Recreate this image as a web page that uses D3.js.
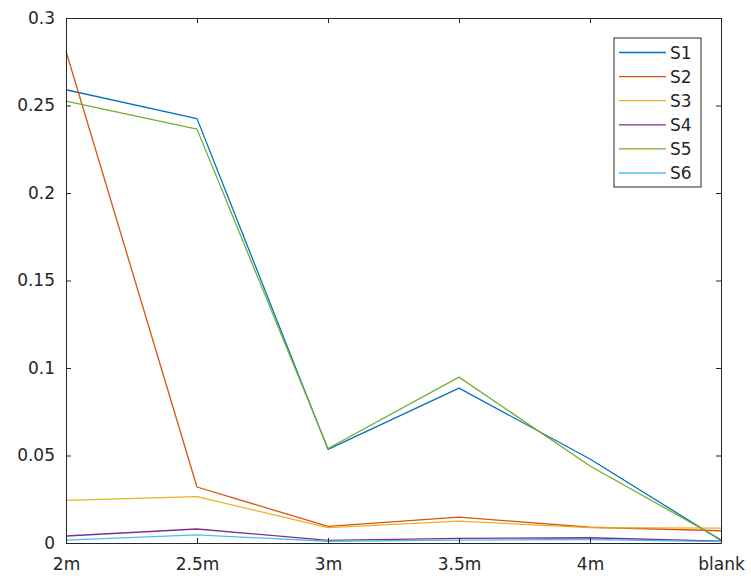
<!DOCTYPE html>
<html>
<head>
<meta charset="utf-8">
<script src="https://cdn.jsdelivr.net/npm/d3@7"></script>
<style>
  html, body { margin: 0; padding: 0; background: #fff; }
  svg { display: block; font-family: "DejaVu Sans", sans-serif; }
</style>
</head>
<body>
<svg id="chart" width="751" height="578"></svg>
<script>
const categories = ["2m", "2.5m", "3m", "3.5m", "4m", "blank"];
const seriesNames = ["S1", "S2", "S3", "S4", "S5", "S6"];
const s1 = [0.259, 0.2425, 0.0535, 0.0885, 0.0480, 0.0015];
const s2 = [0.281, 0.0320, 0.0095, 0.0148, 0.0090, 0.0070];
const s3 = [0.0243, 0.0265, 0.0088, 0.0125, 0.0088, 0.0085];
const s4 = [0.0040, 0.0080, 0.0015, 0.0027, 0.0030, 0.0010];
const s5 = [0.2525, 0.2365, 0.0540, 0.0948, 0.0440, 0.0020];
const s6 = [0.0017, 0.0046, 0.0010, 0.0017, 0.0020, 0.0008];
const seriesValues = [s1, s2, s3, s4, s5, s6];
const colors = ["#0072BD", "#D95319", "#EDB120", "#7E2F8E", "#77AC30", "#4DBEEE"];
const yTicks = [0, 0.05, 0.1, 0.15, 0.2, 0.25, 0.3];

const svg = d3.select("#chart");
const L = 66, R = 721, T = 18, B = 543;
const axisColor = "#262626";

const x = d3.scalePoint().domain(categories).range([L, R]);
const y = d3.scaleLinear().domain([0, 0.3]).range([B, T]);

// lines
const line = d3.line().x((d, i) => x(categories[i])).y(d => y(d));
seriesValues.forEach((vals, k) => {
  svg.append("path")
    .datum(vals)
    .attr("d", line)
    .attr("fill", "none")
    .attr("stroke", colors[k])
    .attr("stroke-width", 1.3)
    .attr("stroke-linejoin", "round");
});

// axes (MATLAB style: ticks inside, box)
const fmt = d => d === 0 ? "0" : d3.format("")(+d.toFixed(2));
const yAxisL = d3.axisLeft(y).tickValues(yTicks).tickSizeInner(-5).tickSizeOuter(0).tickPadding(11).tickFormat(fmt);
const yAxisR = d3.axisRight(y).tickValues(yTicks).tickSizeInner(-5).tickSizeOuter(0).tickFormat("");
const xAxisB = d3.axisBottom(x).tickSizeInner(-5).tickSizeOuter(0).tickPadding(15);
const xAxisT = d3.axisTop(x).tickSizeInner(-5).tickSizeOuter(0).tickFormat("");

function style(g) {
  g.select(".domain").attr("stroke", axisColor).attr("stroke-width", 1);
  g.selectAll(".tick line").attr("stroke", axisColor);
  g.selectAll(".tick text").attr("fill", axisColor).style("font-size", "17px").style("font-family", "DejaVu Sans, sans-serif");
}
svg.append("g").attr("transform", `translate(${L},0)`).call(yAxisL).call(style);
svg.append("g").attr("transform", `translate(${R},0)`).call(yAxisR).call(style);
svg.append("g").attr("transform", `translate(0,${B})`).call(xAxisB).call(style);
svg.append("g").attr("transform", `translate(0,${T})`).call(xAxisT).call(style);

// legend
const lg = svg.append("g");
const lx = 614, ly = 38, lw = 87, lh = 149;
lg.append("rect").attr("x", lx).attr("y", ly).attr("width", lw).attr("height", lh)
  .attr("fill", "#fff").attr("stroke", axisColor).attr("stroke-width", 1);
seriesNames.forEach((n, k) => {
  const yy = 52.5 + k * 24.1;
  lg.append("line").attr("x1", 619).attr("x2", 666).attr("y1", yy).attr("y2", yy)
    .attr("stroke", colors[k]).attr("stroke-width", 1.3);
  lg.append("text").attr("x", 670).attr("y", yy).attr("dy", "0.36em")
    .attr("fill", axisColor).style("font-size", "17px").text(n);
});
</script>
</body>
</html>
